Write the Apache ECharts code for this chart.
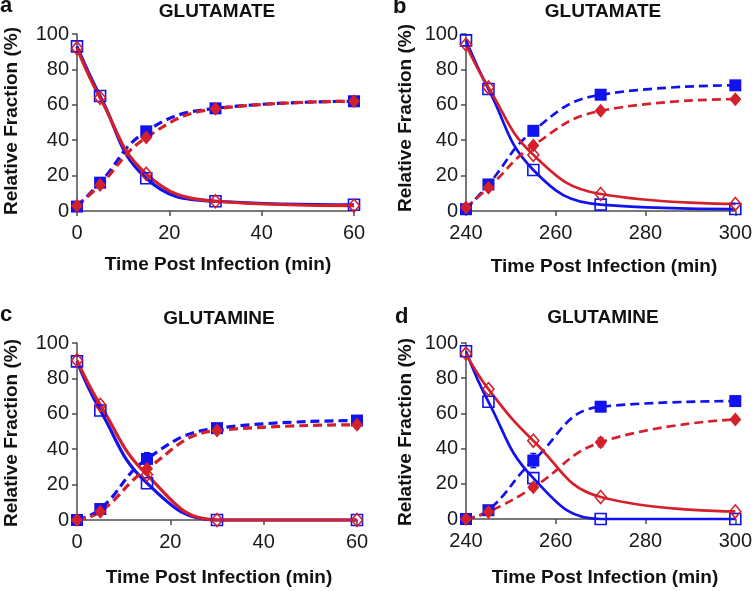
<!DOCTYPE html>
<html><head><meta charset="utf-8">
<script src="https://cdn.jsdelivr.net/npm/echarts@6/dist/echarts.min.js"></script>
<style>html,body{margin:0;padding:0;background:#fff}#c{width:755px;height:591px}</style>
</head><body><div id="c"></div>
<script>
// ---- data ----
const timeEarly = [0, 5, 15, 30, 60];
const timeLate = [240, 245, 255, 270, 300];
const xTicksEarly = [0, 20, 40, 60];
const xTicksLate = [240, 260, 280, 300];
const yTicks = [0, 20, 40, 60, 80, 100];
const panelTitles = ['GLUTAMATE', 'GLUTAMATE', 'GLUTAMINE', 'GLUTAMINE'];
const panelLetters = ['a', 'b', 'c', 'd'];
const xAxisTitle = 'Time Post Infection (min)';
const yAxisTitle = 'Relative Fraction (%)';

const aBlueOpen   = [93, 65, 18.5, 5.5, 3.5];
const aRedOpen    = [92, 64, 21, 5.5, 3];
const aBlueFilled = [2.5, 16, 45, 58, 62];
const aRedFilled  = [3, 14.7, 41.5, 57.7, 62];

const bBlueOpen   = [96.4, 68.9, 23.2, 3.6, 1.1];
const bRedOpen    = [94, 69.8, 31.7, 9.6, 4];
const bBlueFilled = [1, 15, 45.3, 65.7, 71];
const bRedFilled  = [2, 13.2, 37, 56.6, 63.2];

const cBlueOpen   = [89.6, 61.9, 20.8, 0, 0];
const cRedOpen    = [90.2, 65, 25.5, 0, 0];
const cBlueFilled = [0, 6.2, 34.5, 51.9, 56.2];
const cRedFilled  = [0, 4.7, 28.9, 50.6, 53.8];

const dBlueOpen   = [95.3, 66.6, 23.2, 0, 0];
const dRedOpen    = [94, 73.8, 44.5, 12.5, 4.3];
const dBlueFilled = [0, 5, 33.2, 63.8, 67];
const dRedFilled  = [0, 4, 18, 43.6, 56.6];

// error bars (half-width), mostly too small to see
const cBlueFilledErr = [0, 0, 3.5, 0, 0];
const cRedFilledErr  = [0, 0, 3, 0, 0];
const dBlueFilledErr = [0, 0, 4, 1.5, 0];
const dRedFilledErr  = [0, 0, 0, 2.5, 0];

// ---- layout / style ----
const BLUE = '#1212ee';
const RED = '#d3202a';
const AXIS = '#4d4d4d';
const FONT = '"Liberation Sans", Arial, Helvetica, sans-serif';

const grids = [
  {left: 77, top: 34, width: 277, height: 177},
  {left: 466, top: 34, width: 273, height: 177},
  {left: 77, top: 343, width: 280, height: 177},
  {left: 466, top: 343, width: 274, height: 176}
];
const panels = [
  {x: timeEarly, ticks: xTicksEarly, bo: aBlueOpen, ro: aRedOpen, bf: aBlueFilled, rf: aRedFilled, bfe: null, rfe: null, lw: 3.2},
  {x: timeLate, ticks: xTicksLate, bo: bBlueOpen, ro: bRedOpen, bf: bBlueFilled, rf: bRedFilled, bfe: null, rfe: null, lw: 2.7},
  {x: timeEarly, ticks: xTicksEarly, bo: cBlueOpen, ro: cRedOpen, bf: cBlueFilled, rf: cRedFilled, bfe: cBlueFilledErr, rfe: cRedFilledErr, lw: 3.2},
  {x: timeLate, ticks: xTicksLate, bo: dBlueOpen, ro: dRedOpen, bf: dBlueFilled, rf: dRedFilled, bfe: dBlueFilledErr, rfe: dRedFilledErr, lw: 2.7}
];
const titlePos = [[217, 12], [603, 12], [219, 319], [603, 318]];
const letterPos = [[0, 6], [393, 7], [0, 315], [395, 317]];
const xNamePos = [[218, 265], [604, 267], [219, 578], [605, 578]];
const yNamePos = [[12, 121], [406, 118], [12, 433], [406, 432]];

function lineSeries(i, xs, ys, color, symbol, filled, dashed, lw) {
  return {
    type: 'line', xAxisIndex: i, yAxisIndex: i,
    data: xs.map((x, k) => [x, ys[k]]),
    smooth: 0.45,
    symbol: symbol,
    symbolSize: symbol === 'rect' ? (filled ? [12, 12] : [11, 11]) : (filled ? [12, 14] : [11, 13]),
    showSymbol: true,
    clip: false,
    itemStyle: filled ? {color: color} : {color: 'rgba(255,255,255,0)', borderColor: color, borderWidth: 1.6},
    lineStyle: {color: color, width: lw, type: dashed ? [9, 5] : 'solid'},
    emphasis: {disabled: true},
    animation: false
  };
}
function errSeries(i, xs, ys, errs, color) {
  const data = [];
  xs.forEach((x, k) => { if (errs && errs[k] > 0) data.push([x, ys[k], errs[k]]); });
  return {
    type: 'custom', xAxisIndex: i, yAxisIndex: i, data: data, animation: false, z: 3,
    renderItem: function (params, api) {
      const x = api.value(0), y = api.value(1), e = api.value(2);
      const lo = api.coord([x, y - e]), hi = api.coord([x, y + e]);
      const st = {stroke: color, lineWidth: 1.5};
      return {type: 'group', children: [
        {type: 'line', shape: {x1: lo[0], y1: lo[1], x2: hi[0], y2: hi[1]}, style: st},
        {type: 'line', shape: {x1: lo[0] - 3, y1: lo[1], x2: lo[0] + 3, y2: lo[1]}, style: st},
        {type: 'line', shape: {x1: hi[0] - 3, y1: hi[1], x2: hi[0] + 3, y2: hi[1]}, style: st}
      ]};
    }
  };
}

const xAxes = [], yAxes = [], series = [], graphics = [];
panels.forEach((p, i) => {
  xAxes.push({
    type: 'value', gridIndex: i, min: p.ticks[0], max: p.ticks[p.ticks.length - 1], interval: 20,
    splitLine: {show: false},
    axisLine: {show: true, onZero: false, lineStyle: {color: AXIS, width: 1.5}},
    axisTick: {show: true, length: 5, lineStyle: {color: AXIS, width: 1.5}},
    axisLabel: {color: '#1a1a1a', fontSize: 20, fontFamily: FONT, margin: 12}
  });
  yAxes.push({
    type: 'value', gridIndex: i, min: yTicks[0], max: yTicks[yTicks.length - 1], interval: 20,
    splitLine: {show: false},
    axisLine: {show: true, onZero: false, lineStyle: {color: AXIS, width: 1.5}},
    axisTick: {show: true, length: 5, lineStyle: {color: AXIS, width: 1.5}},
    axisLabel: {color: '#1a1a1a', fontSize: 20, fontFamily: FONT, margin: 8}
  });
  series.push(lineSeries(i, p.x, p.bo, BLUE, 'rect', false, false, p.lw));
  series.push(lineSeries(i, p.x, p.bf, BLUE, 'rect', true, true, p.lw));
  series.push(lineSeries(i, p.x, p.ro, RED, 'diamond', false, false, p.lw));
  series.push(lineSeries(i, p.x, p.rf, RED, 'diamond', true, true, p.lw));
  if (p.bfe) series.push(errSeries(i, p.x, p.bf, p.bfe, BLUE));
  if (p.rfe) series.push(errSeries(i, p.x, p.rf, p.rfe, RED));

  graphics.push({type: 'text', x: titlePos[i][0], y: titlePos[i][1],
    style: {text: panelTitles[i], fontSize: 19, fontWeight: 'bold', fontFamily: FONT, fill: '#111', align: 'center', verticalAlign: 'middle'}});
  graphics.push({type: 'text', x: letterPos[i][0], y: letterPos[i][1],
    style: {text: panelLetters[i], fontSize: 22, fontWeight: 'bold', fontFamily: FONT, fill: '#111', align: 'left', verticalAlign: 'middle'}});
  graphics.push({type: 'text', x: xNamePos[i][0], y: xNamePos[i][1],
    style: {text: xAxisTitle, fontSize: 19, fontWeight: 'bold', fontFamily: FONT, fill: '#111', align: 'center', verticalAlign: 'middle'}});
  graphics.push({type: 'text', x: yNamePos[i][0], y: yNamePos[i][1], rotation: Math.PI / 2,
    style: {text: yAxisTitle, fontSize: 19, fontWeight: 'bold', fontFamily: FONT, fill: '#111', align: 'center', verticalAlign: 'middle'}});
});

const chart = echarts.init(document.getElementById('c'), null, {renderer: 'canvas'});
chart.setOption({
  backgroundColor: '#ffffff',
  animation: false,
  grid: grids.map(g => Object.assign({containLabel: false}, g)),
  xAxis: xAxes,
  yAxis: yAxes,
  series: series,
  graphic: graphics
});
</script></body></html>
